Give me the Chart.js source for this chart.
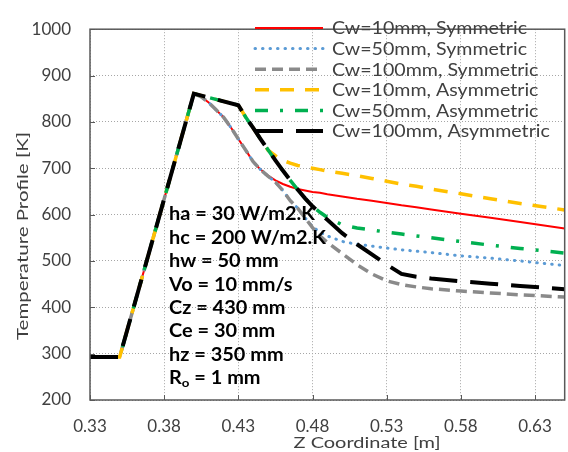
<!DOCTYPE html>
<html>
<head>
<meta charset="utf-8">
<script src="https://cdn.jsdelivr.net/npm/chart.js@4/dist/chart.umd.min.js"></script>
<style>
  html, body { margin: 0; padding: 0; background: #ffffff; }
  canvas { display: block; }
</style>
</head>
<body>
<canvas id="chart" width="568" height="452"></canvas>
<script>
// Axial position along the sample [m]
const zCoordinate = [0.33, 0.35, 0.40, 0.405, 0.41, 0.415, 0.42, 0.425, 0.43, 0.435, 0.44, 0.445,
                     0.45, 0.455, 0.46, 0.465, 0.47, 0.475, 0.48, 0.485, 0.49, 0.50, 0.51, 0.52,
                     0.53, 0.54, 0.55, 0.56, 0.58, 0.60, 0.62, 0.65];

// Temperature profiles [K]; null where the profile runs straight between neighbours
const symCw10 = [293, 293, 861, 854, 842, 826, 810, 788, 763, 739, 714, 697,
                 684, 674, 666, 660, 655, 652, 649, 647, 644, 639, 634, 630,
                 625, 620, 616, 611, 602, 593, 584, 570];
const symCw50 = [293, 293, 861, 854, 842, 826, 810, 788, 763, 739, 714, 697,
                 683, 670, 652, 630, 614, 593, 574, 562, 554, 542, 536, 532,
                 528, 524, 521, 518, 511, 506, 500, 490];
const symCw100 = [293, 293, 861, 854, 842, 826, 810, 788, 763, 739, 714, 697,
                  683, 670, 652, 630, 614, 593, 572, 554, 540, 516, 492, 472,
                  457, 449, 444, 440, 435, 431, 427, 422];
const asymCw10 = [293, 293, 861, null, null, null, null, null, 836, 810, 787, 763,
                  739, 727, 717, 711, 706, 703, 700, 697, 694, 689, 684, 678,
                  672, 666, 661, 655, 645, 634, 624, 610];
const asymCw50 = [293, 293, 861, null, null, null, null, null, 836, 810, 787, 763,
                  740, 717, 695, 674, 654, 635, 618, 605, 594, 578, 571, 567,
                  562, 558, 554, 550, 542, 534, 527, 517];
const asymCw100 = [293, 293, 861, null, null, null, null, null, 836, 810, 787, 763,
                   740, 717, 695, 674, 654, 635, 618, 603, 589, 560, 536, 514,
                   492, 472, 466, 462, 456, 451, 446, 439];

const seriesNames = [
  'Cw=10mm, Symmetric',
  'Cw=50mm, Symmetric',
  'Cw=100mm, Symmetric',
  'Cw=10mm, Asymmetric',
  'Cw=50mm, Asymmetric',
  'Cw=100mm, Asymmetric'
];
const seriesValues = [symCw10, symCw50, symCw100, asymCw10, asymCw50, asymCw100];

// Axis ticks
const xTickValues = [0.33, 0.38, 0.43, 0.48, 0.53, 0.58, 0.63];
const xTickLabels = ['0.33', '0.38', '0.43', '0.48', '0.53', '0.58', '0.63'];
const yTickLabels = ['200', '300', '400', '500', '600', '700', '800', '900', '1000'];

// Process conditions printed inside the plot ("_" marks a subscript)
const conditions = [
  'ha = 30 W/m2.K',
  'hc = 200 W/m2.K',
  'hw = 50 mm',
  'Vo = 10 mm/s',
  'Cz = 430 mm',
  'Ce = 30 mm',
  'hz = 350 mm',
  'R_o = 1 mm'
];

const xTitle = 'Z Coordinate [m]';
const yTitle = 'Temperature Profile [K]';

// Line styles per series
const lineStyles = [
  { color: '#FF0000', width: 2,   dash: [],              cap: 'butt'  },
  { color: '#5B9BD5', width: 3,   dash: [0.5, 7],        cap: 'round' },
  { color: '#8A8A8A', width: 3.5, dash: [11, 6],         cap: 'butt'  },
  { color: '#FFC000', width: 3.5, dash: [14, 11],        cap: 'butt'  },
  { color: '#00B050', width: 3.5, dash: [13, 12, 3, 12], cap: 'butt'  },
  { color: '#000000', width: 4,   dash: [28, 13],        cap: 'butt'  }
];

const FONT = 'Lato, "Open Sans", sans-serif';

const datasets = seriesValues.map((vals, i) => ({
  label: seriesNames[i],
  data: zCoordinate.map((z, k) => ({ x: z, y: vals[k] })),
  borderColor: lineStyles[i].color,
  backgroundColor: lineStyles[i].color,
  borderWidth: lineStyles[i].width,
  borderDash: lineStyles[i].dash,
  borderCapStyle: lineStyles[i].cap,
  borderJoinStyle: 'miter',
  pointRadius: 0,
  pointHoverRadius: 0,
  fill: false,
  tension: 0,
  spanGaps: true,
  order: seriesValues.length - 1 - i
}));

// Horizontal stretch so that a sample string spans a given width
function stretchFor(ctx, font, sample, width) {
  ctx.font = font;
  return width / ctx.measureText(sample).width;
}

function drawStretched(ctx, text, x, y, sx, align) {
  ctx.save();
  ctx.translate(x, y);
  ctx.scale(sx, 1);
  ctx.textAlign = align || 'left';
  ctx.fillText(text, 0, 0);
  ctx.restore();
  return ctx.measureText(text).width * sx;
}

// Frame, inner tick marks, legend, condition notes and axis titles
const decorations = {
  id: 'decorations',
  afterDatasetsDraw(chart) {
    const ctx = chart.ctx;
    const area = chart.chartArea;
    const xs = chart.scales.x;
    const ys = chart.scales.y;
    ctx.save();

    // inward tick marks
    ctx.strokeStyle = '#595959';
    ctx.lineWidth = 1;
    ctx.setLineDash([]);
    ctx.beginPath();
    xs.ticks.forEach(t => {
      const px = Math.round(xs.getPixelForValue(t.value)) + 0.5;
      ctx.moveTo(px, area.bottom);
      ctx.lineTo(px, area.bottom - 5);
    });
    ys.ticks.forEach(t => {
      const py = Math.round(ys.getPixelForValue(t.value)) + 0.5;
      ctx.moveTo(area.left, py);
      ctx.lineTo(area.left + 5, py);
    });
    ctx.stroke();

    // plot frame
    ctx.strokeStyle = '#595959';
    ctx.lineWidth = 1.5;
    ctx.strokeRect(area.left, area.top, area.right - area.left, area.bottom - area.top);

    // legend
    const lx1 = 255, lx2 = 323, ltx = 332, ly0 = 28, lstep = 20.6;
    const legendFont = '17px ' + FONT;
    const legendSx = stretchFor(ctx, legendFont, seriesNames[0], 195);
    chart.data.datasets.forEach((ds, i) => {
      const y = ly0 + i * lstep;
      ctx.strokeStyle = ds.borderColor;
      ctx.lineWidth = ds.borderWidth;
      ctx.lineCap = ds.borderCapStyle;
      ctx.setLineDash(ds.borderDash);
      ctx.beginPath();
      ctx.moveTo(lx1, y);
      ctx.lineTo(lx2, y);
      ctx.stroke();
      ctx.setLineDash([]);
      ctx.fillStyle = '#404040';
      ctx.font = legendFont;
      ctx.textBaseline = 'middle';
      drawStretched(ctx, ds.label, ltx, y + 1, legendSx, 'left');
    });

    // condition notes
    const noteFont = 'bold 18px ' + FONT;
    const subFont = 'bold 12px ' + FONT;
    const noteSx = stretchFor(ctx, noteFont, conditions[1], 157);
    ctx.fillStyle = '#000000';
    ctx.textBaseline = 'middle';
    conditions.forEach((line, i) => {
      const y = 214.5 + i * 23.4;
      let x = 169;
      line.split(/(_\w)/).forEach(p => {
        if (!p) return;
        if (p[0] === '_') {
          ctx.font = subFont;
          x += drawStretched(ctx, p.slice(1), x, y + 5, noteSx, 'left');
        } else {
          ctx.font = noteFont;
          x += drawStretched(ctx, p, x, y, noteSx, 'left');
        }
      });
    });

    // axis titles
    ctx.fillStyle = '#404040';
    ctx.textBaseline = 'middle';
    const titleFont = '16px ' + FONT;
    const xTitleSx = stretchFor(ctx, titleFont, xTitle, 147);
    drawStretched(ctx, xTitle, 367, 443, xTitleSx, 'center');
    const yTitleSx = stretchFor(ctx, titleFont, yTitle, 208);
    ctx.translate(23, 236);
    ctx.rotate(-Math.PI / 2);
    drawStretched(ctx, yTitle, 0, 0, yTitleSx, 'center');

    ctx.restore();
  }
};

new Chart(document.getElementById('chart'), {
  type: 'line',
  data: { datasets },
  plugins: [decorations],
  options: {
    responsive: false,
    animation: false,
    devicePixelRatio: 1,
    layout: { padding: { left: 0, right: 3, top: 15, bottom: 0 } },
    plugins: {
      legend: { display: false },
      tooltip: { enabled: false }
    },
    scales: {
      x: {
        type: 'linear',
        min: 0.33,
        max: 0.65,
        afterBuildTicks: s => { s.ticks = xTickValues.map(v => ({ value: v })); },
        afterFit: s => { s.height = 52; },
        ticks: {
          autoSkip: false,
          maxRotation: 0,
          padding: 16,
          color: '#404040',
          font: { family: FONT, size: 17 },
          callback: (v, i) => xTickLabels[i]
        },
        grid: { color: '#A6A6A6', lineWidth: 1, drawTicks: false },
        border: { display: false, dash: [1, 2] }
      },
      y: {
        type: 'linear',
        min: 200,
        max: 1000,
        afterFit: s => { s.width = 90; },
        ticks: {
          stepSize: 100,
          padding: 19,
          color: '#404040',
          font: { family: FONT, size: 17 },
          callback: (v, i) => yTickLabels[i]
        },
        grid: { color: '#A6A6A6', lineWidth: 1, drawTicks: false },
        border: { display: false, dash: [1, 2] }
      }
    }
  }
});
</script>
</body>
</html>
